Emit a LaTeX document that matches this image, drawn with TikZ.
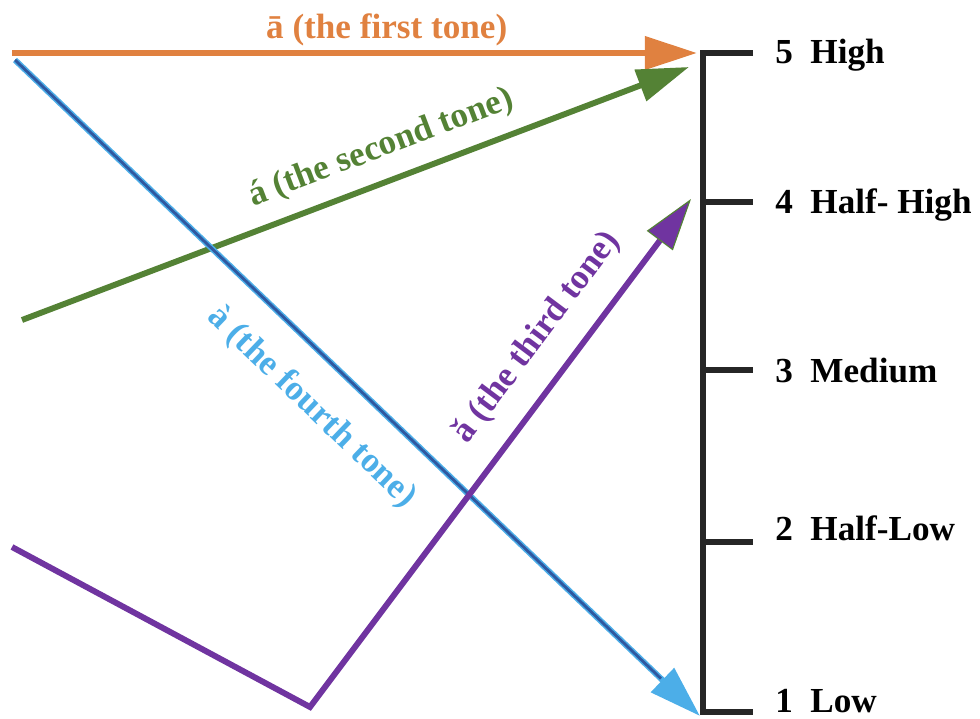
\documentclass[tikz,border=0pt]{standalone}
\usepackage{fontspec}
\setmainfont{Liberation Serif}
\usetikzlibrary{arrows.meta}
\definecolor{toneone}{RGB}{224,129,64}
\definecolor{tonetwo}{RGB}{84,130,53}
\definecolor{tonethree}{RGB}{112,52,160}
\definecolor{tonefour}{RGB}{76,174,232}
\definecolor{tonefourcore}{RGB}{47,88,160}
\definecolor{scalegray}{RGB}{38,38,38}
\begin{document}
\begin{tikzpicture}[x=0.025cm, y=-0.025cm, font=\fontsize{25}{30}\selectfont\bfseries,
    tone/.style={line width=4.2pt},
    tip/.style={-{Triangle[length=37pt, width=23pt]}},
    scaleline/.style={scalegray, line width=4.4pt},
    tonelabel/.style={sloped, inner sep=0pt}]
  \useasboundingbox (0,0) rectangle (980,718);
  % pitch scale
  \foreach \n/\y/\b/\t in {5/53/63/High, 4/202/213/Half- High, 3/370/382/Medium, 2/542/540/Half-Low, 1/712/712/Low}{
    \coordinate (l\n) at (703,\y);
    \draw[scaleline] (l\n) -- ++(50,0);
    \node[anchor=base west, inner sep=0pt] (lab\n) at (775,\b) {\n\ \ \t};
  }
  \draw[scaleline] (l5) ++(50,0) -- (l5) -- (l1) -- ++(50,0);
  % tones
  \coordinate (s1) at (12,53);  \coordinate (e1) at (697,53);
  \coordinate (s2) at (22,320); \coordinate (e2) at (689,67);
  \coordinate (s4) at (15,60);  \coordinate (e4) at (700,716);
  \coordinate (s3) at (12,547); \coordinate (m3) at (310,707); \coordinate (e3) at (691,199);
  \draw[tone, toneone, tip] (s1) -- node[tonelabel, pos=0.547, above=3pt] (first) {ā (the first tone)} (e1);
  \draw[tone, tonetwo, tip] (s2) -- node[tonelabel, pos=0.556, above=10pt] (second) {á (the second tone)} (e2);
  \draw[tone, tonefour, tip] (s4) -- node[tonelabel, pos=0.479, below=19pt] (fourth) {à (the fourth tone)} (e4);
  \draw[tonefourcore, line width=2pt, shorten >=1.35cm] (s4) -- (e4);
  \draw[tone, tonethree, -{Triangle[length=37pt, width=23pt, line width=0.8pt, color=tonetwo, fill=tonethree]}]
    (s3) -- (m3) -- node[tonelabel, pos=0.68, above=15pt] (third) {ǎ (the third tone)} (e3);
\end{tikzpicture}
\end{document}
